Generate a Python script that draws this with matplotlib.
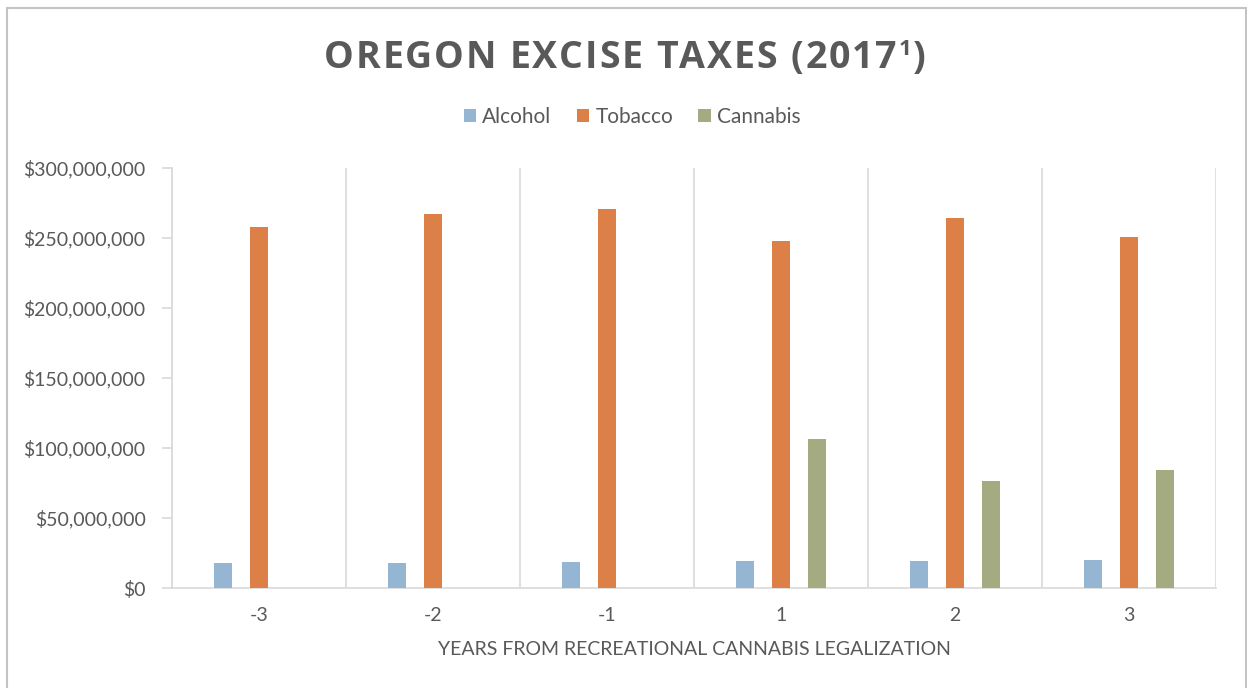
import numpy as np
import matplotlib.pyplot as plt
from matplotlib.patches import Rectangle
from matplotlib.ticker import FuncFormatter

years = ["-3", "-2", "-1", "1", "2", "3"]
alcohol = [17.8e6, 17.8e6, 18.6e6, 19.0e6, 19.3e6, 19.7e6]
tobacco = [258.1e6, 266.9e6, 270.7e6, 247.6e6, 264.5e6, 250.5e6]
cannabis = [0, 0, 0, 106.4e6, 76.8e6, 84.0e6]

series = [("Alcohol", alcohol, "#94b6d2"),
          ("Tobacco", tobacco, "#dd8047"),
          ("Cannabis", cannabis, "#a5ab81")]

text_color = "#595959"
grid_color = "#d9d9d9"
plt.rcParams["font.family"] = ["Lato", "DejaVu Sans"]

fig = plt.figure(figsize=(12.47, 6.88), dpi=100)
ax = fig.add_axes([0.1379, 0.1453, 0.8372, 0.6105])

x = np.arange(len(years))
width = 0.105
offsets = [-0.206, 0.0, 0.206]
for (name, vals, color), off in zip(series, offsets):
    ax.bar(x + off, vals, width, color=color, label=name, zorder=3)

ax.set_xlim(-0.5, len(years) - 0.5)
ax.set_ylim(0, 300e6)
ax.set_yticks(np.arange(0, 300e6 + 1, 50e6))
ax.yaxis.set_major_formatter(FuncFormatter(lambda v, p: "${:,.0f}".format(v)))
ax.set_xticks(x)
ax.set_xticklabels(years)

# category separators
for b in np.arange(-0.5, len(years), 1.0):
    ax.axvline(b, color=grid_color, lw=1.2, zorder=1)

for s in ["top", "right"]:
    ax.spines[s].set_visible(False)
ax.spines["left"].set_color(grid_color)
ax.spines["bottom"].set_color(grid_color)
ax.spines["left"].set_linewidth(1.2)
ax.spines["bottom"].set_linewidth(1.2)

ax.tick_params(axis="y", colors=grid_color, length=7, width=1.2, pad=12,
               labelcolor=text_color, labelsize=14)
ax.tick_params(axis="x", length=0, pad=14, labelcolor=text_color, labelsize=14)

ax.set_xlabel("YEARS FROM RECREATIONAL CANNABIS LEGALIZATION",
              color=text_color, fontsize=14, labelpad=12)

# title drawn letter by letter for the wide tracking, with a raised "1"
title_parts = [("OREGON EXCISE TAXES (2017", 27, 0), ("1", 16, 13), (")", 27, 0)]
tracking = 1.8
title_font = dict(fontweight="bold", color=text_color, family=["Open Sans", "DejaVu Sans"])
renderer = fig.canvas.get_renderer()
glyphs = []
cursor = 0.0
for part, size, rise in title_parts:
    for ch in part:
        t = fig.text(0, 0, ch, fontsize=size, ha="left", va="baseline", **title_font)
        w = t.get_window_extent(renderer).width
        glyphs.append((t, cursor, rise))
        cursor += w + tracking
total = cursor - tracking
left_px = 625 - total / 2
base_px = 688 - 68
for t, off, rise in glyphs:
    t.set_position(((left_px + off) / 1247, (base_px + rise) / 688))

ax.legend(loc="center", bbox_to_anchor=(632 / 1247, 1 - 117 / 688), bbox_transform=fig.transFigure,
          ncol=3, frameon=False, fontsize=15, labelcolor=text_color,
          handlelength=0.6, handleheight=0.6, handletextpad=0.3,
          columnspacing=1.2)

# outer frame
fig.patches.append(Rectangle((7 / 1247, -0.05), 1239 / 1247, 1 - 8 / 688 + 0.05,
                             transform=fig.transFigure, fill=False,
                             edgecolor="#c4c4c4", lw=1.5))

fig.savefig("out.png", dpi=100)
